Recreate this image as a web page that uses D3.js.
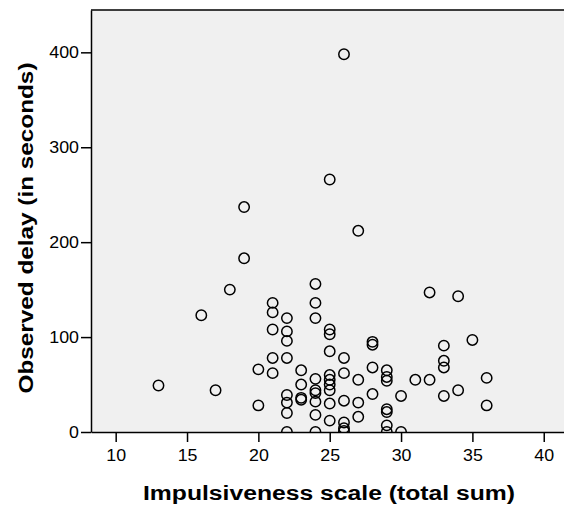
<!DOCTYPE html>
<html>
<head>
<meta charset="utf-8">
<script src="https://cdn.jsdelivr.net/npm/d3@7"></script>
<style>
  body { margin: 0; background: #fff; }
  text { font-family: "Liberation Sans", Arial, sans-serif; fill: #000; }
</style>
</head>
<body>
<div id="chart"></div>
<script>
// impulsiveness score (x) and observed delay in seconds (y)
var impulsiveness = [13, 16, 17, 18, 19, 19, 20, 20,
    21, 21, 21, 21, 21,
    22, 22, 22, 22, 22, 22, 22, 22,
    23, 23, 23, 23,
    24, 24, 24, 24, 24, 24, 24, 24, 24,
    25, 25, 25, 25, 25, 25, 25, 25, 25, 25,
    26, 26, 26, 26, 26, 26, 26,
    27, 27, 27, 27,
    28, 28, 28, 28,
    29, 29, 29, 29, 29, 29, 29,
    30, 30, 31, 32, 32,
    33, 33, 33, 33, 34, 34, 35, 36, 36];
var delay = [49, 123, 44, 150, 237, 183, 66, 28,
    136, 126, 108, 78, 62,
    120, 106, 96, 78, 39, 31, 20, 0,
    65, 50, 36, 34,
    156, 136, 120, 56, 44, 41, 32, 18, 0,
    266, 108, 103, 85, 60, 55, 50, 44, 30, 12,
    398, 78, 62, 33, 10, 4, 1,
    212, 55, 31, 16,
    95, 92, 68, 40,
    65, 58, 54, 24, 21, 7, 0,
    38, 0, 55, 147, 55,
    91, 75, 68, 38, 143, 44, 97, 57, 28];

var xTicks = [10, 15, 20, 25, 30, 35, 40];
var yTicks = [0, 100, 200, 300, 400];

function drawChart() {
    var width = 564, height = 514;
    var pLeft = 91, pRight = 564, pTop = 10, pBottom = 432;

    var svg = d3.select("#chart").append("svg")
        .attr("width", width)
        .attr("height", height);

    var xScale = d3.scaleLinear().domain([8.27, 41.42]).range([pLeft, pRight]);
    var yScale = d3.scaleLinear().domain([0, 444.6]).range([pBottom, pTop]);

    // plot background
    svg.append("rect")
        .attr("x", pLeft).attr("y", pTop)
        .attr("width", pRight - pLeft).attr("height", pBottom - pTop)
        .attr("fill", "#f0f0f0");

    svg.append("clipPath").attr("id", "clip")
        .append("rect")
        .attr("x", pLeft).attr("y", pTop)
        .attr("width", pRight - pLeft).attr("height", pBottom - pTop);

    var points = impulsiveness.map(function (d, i) {
        return { x: d, y: delay[i] };
    });

    svg.append("g").attr("clip-path", "url(#clip)")
        .selectAll("circle").data(points)
        .enter().append("circle")
        .attr("cx", function (d) { return xScale(d.x); })
        .attr("cy", function (d) { return yScale(d.y); })
        .attr("r", 5.2)
        .attr("fill", "none")
        .attr("stroke", "#000")
        .attr("stroke-width", 1.5);

    // frame top line
    svg.append("line")
        .attr("x1", pLeft).attr("x2", pRight)
        .attr("y1", pTop).attr("y2", pTop)
        .attr("stroke", "#000").attr("stroke-width", 1.5);

    // axes
    var xAxis = svg.append("g")
        .attr("transform", "translate(0," + pBottom + ")")
        .call(d3.axisBottom(xScale).tickValues(xTicks).tickSize(10).tickPadding(8).tickSizeOuter(0));
    var yAxis = svg.append("g")
        .attr("transform", "translate(" + pLeft + ",0)")
        .call(d3.axisLeft(yScale).tickValues(yTicks).tickSize(10).tickPadding(2).tickSizeOuter(0));

    [xAxis, yAxis].forEach(function (g) {
        g.attr("font-size", null).attr("font-family", null);
        g.select(".domain").attr("stroke", "#000").attr("stroke-width", 1.5);
        g.selectAll(".tick line").attr("stroke", "#000").attr("stroke-width", 1.5);
        g.selectAll(".tick text")
            .style("font-size", "16px")
            .attr("fill", "#000")
            // the source glyphs are a little wider than Liberation Sans
            .attr("textLength", function (d) { return String(d).length * 9.9; })
            .attr("lengthAdjust", "spacingAndGlyphs");
    });

    // axis titles
    svg.append("text")
        .attr("x", 329)
        .attr("y", 500)
        .attr("text-anchor", "middle")
        .attr("textLength", 372)
        .attr("lengthAdjust", "spacingAndGlyphs")
        .style("font-size", "20px")
        .style("font-weight", "bold")
        .text("Impulsiveness scale (total sum)");

    svg.append("text")
        .attr("transform", "translate(33,228) rotate(-90)")
        .attr("text-anchor", "middle")
        .attr("textLength", 331)
        .attr("lengthAdjust", "spacingAndGlyphs")
        .style("font-size", "20px")
        .style("font-weight", "bold")
        .text("Observed delay (in seconds)");
}

drawChart();
</script>
</body>
</html>
